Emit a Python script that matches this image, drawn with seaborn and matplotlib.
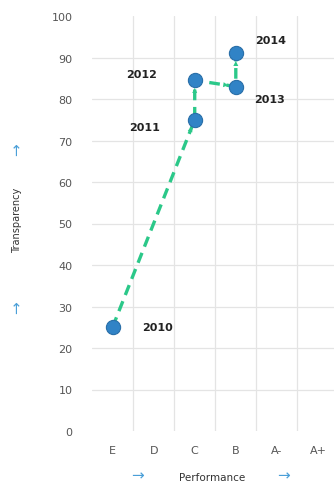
import matplotlib
matplotlib.use("Agg")
import matplotlib.pyplot as plt
import seaborn as sns
import pandas as pd

categories = ["E", "D", "C", "B", "A-", "A+"]
years = ["2010", "2011", "2012", "2013", "2014"]
performance = ["E", "C", "C", "B", "B"]
transparency = [25, 75, 84.5, 83, 91]
yticks = [0, 10, 20, 30, 40, 50, 60, 70, 80, 90, 100]

sns.set_theme(style="white")
plt.rcParams['font.family'] = ['DejaVu Sans']

df = pd.DataFrame({"year": years, "perf": performance, "trans": transparency})
df["x"] = df["perf"].map({c: i for i, c in enumerate(categories)})

fig = plt.figure(figsize=(3.34, 4.85), dpi=100)
ax = fig.add_axes([92/334, 53/485, 242/334, 415/485])

# grid
for i in range(len(categories)):
    ax.axvline(i + 0.5, color="#e4e4e4", lw=0.9, zorder=0)
for v in yticks[1:-1]:
    ax.axhline(v, color="#e4e4e4", lw=0.9, zorder=0)

sns.lineplot(data=df, x="x", y="trans", sort=False, estimator=None, ax=ax,
             color="#2bc889", lw=2.4, linestyle=(0, (3.2, 2)), zorder=2)
# arrow heads near the end of each segment
for i in range(len(df) - 1):
    x0, y0 = df["x"][i], df["trans"][i]
    x1, y1 = df["x"][i + 1], df["trans"][i + 1]
    ax.annotate("", xy=(x1, y1), xytext=(x0 + (x1 - x0) * 0.5, y0 + (y1 - y0) * 0.5),
                arrowprops=dict(arrowstyle="-|>", color="#2bc889", lw=0, mutation_scale=9,
                                shrinkB=5.5, shrinkA=0), zorder=3)
sns.scatterplot(data=df, x="x", y="trans", ax=ax, s=105, color="#3183c6",
                edgecolor="#2a6fa8", linewidth=0.8, zorder=4)

offsets = {"2010": (0.73, 0), "2011": (-1.59, -1.7), "2012": (-1.66, 1.5),
           "2013": (0.44, -3.0), "2014": (0.46, 3.2)}
for _, r in df.iterrows():
    dx, dy = offsets[r["year"]]
    ax.text(r["x"] + dx, r["trans"] + dy, r["year"], fontsize=8, fontweight="bold",
            color="#222222", ha="left", va="center")

ax.set_xlim(-0.5, 5.39)
ax.set_ylim(0, 100)
ax.set_xticks(range(len(categories)))
ax.set_xticklabels(categories)
ax.set_yticks(yticks)
ax.tick_params(axis="both", colors="#555555", labelsize=8, length=0)
ax.tick_params(axis="x", pad=10)
ax.tick_params(axis="y", pad=14)
for s in ax.spines.values():
    s.set_visible(False)
ax.set_xlabel("")
ax.set_ylabel("")

fig.text(17/334, 1 - 220/485, "Transparency", rotation=90, fontsize=7, color="#333333",
         ha="center", va="center")
fig.text(17/334, 1 - 150/485, "\u2192", rotation=90, fontsize=11, color="#4a9fd8",
         ha="center", va="center")
fig.text(17/334, 1 - 308/485, "\u2192", rotation=90, fontsize=11, color="#4a9fd8",
         ha="center", va="center")
fig.text(212/334, 1 - 478/485, "Performance", fontsize=7.5, color="#333333",
         ha="center", va="center")
fig.text(137/334, 1 - 476/485, "\u2192", fontsize=11, color="#4a9fd8", ha="center", va="center")
fig.text(284/334, 1 - 476/485, "\u2192", fontsize=11, color="#4a9fd8", ha="center", va="center")

fig.savefig("out.png", dpi=100)
